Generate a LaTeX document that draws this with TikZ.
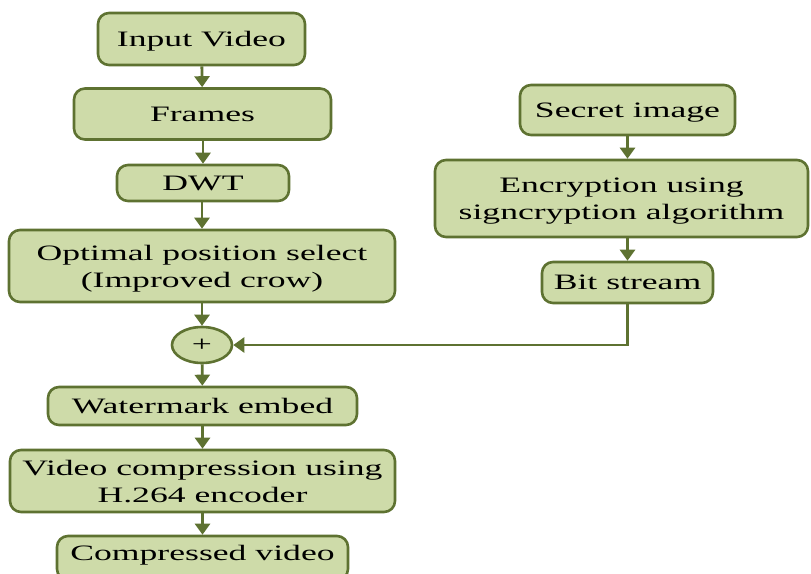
\documentclass[tikz,border=0pt]{standalone}
\usepackage{fontspec}
\setmainfont{Liberation Serif}[FakeStretch=1.62]
\usetikzlibrary{arrows.meta,shapes.geometric}
\definecolor{boxfill}{HTML}{CEDBA9}
\definecolor{boxline}{HTML}{5E7231}
\tikzset{
  x=1pt, y=1pt,
  stage/.style={draw=boxline, fill=boxfill, line width=2.6pt, rounded corners=11pt,
    inner sep=0pt, align=center, text depth=0pt, font=\fontsize{22}{27}\selectfont},
  joiner/.style={draw=boxline, fill=boxfill, line width=2.6pt, ellipse, inner sep=0pt,
    minimum width=60pt, minimum height=36pt, font=\fontsize{22}{24}\selectfont},
  flow/.style={draw=boxline, line width=2.8pt, -{Triangle[width=15pt,length=11pt]}}
}
\begin{document}
\begin{tikzpicture}
\useasboundingbox (0,0) rectangle (811,-573);
\begin{scope}
\clip (0,0) rectangle (811,-573);
% left column: video path
\node[stage, minimum width=207pt, minimum height=52pt] (inp) at (201.5,-39) {Input Video};
\node[stage, minimum width=257pt, minimum height=51pt] (frm) at (202.5,-114) {Frames};
\node[stage, minimum width=172pt, minimum height=36pt] (dwt) at (203,-183) {DWT};
\node[stage, minimum width=386pt, minimum height=72pt] (opt) at (202,-266) {Optimal position select\\(Improved crow)};
\node[joiner] (plus) at (202,-345) {+};
\node[stage, minimum width=309pt, minimum height=38pt] (wm) at (202.5,-406) {Watermark embed};
\node[stage, minimum width=385pt, minimum height=62pt] (vc) at (202.5,-481) {Video compression using\\H.264 encoder};
\node[stage, minimum width=291pt, minimum height=44pt] (cv) at (202.5,-558) {};
\node[font=\fontsize{22}{24}\selectfont] (cvt) at (202.5,-555) {Compressed video};
% right column: secret image path
\node[stage, minimum width=215pt, minimum height=50pt] (sec) at (627.5,-110) {Secret image};
\node[stage, minimum width=373pt, minimum height=77pt] (enc) at (621.5,-198.5) {Encryption using\\signcryption algorithm};
\node[stage, minimum width=171pt, minimum height=41pt] (bit) at (627.5,-282.5) {Bit stream};
% connectors
\draw[flow] (inp) -- (frm);
\draw[flow] (frm.south -| dwt) -- (dwt);
\draw[flow] (dwt.south -| opt) -- (opt);
\draw[flow] (opt) -- (plus);
\draw[flow] (plus) -- (wm);
\draw[flow] (wm) -- (vc);
\draw[flow] (vc) -- (cv);
\draw[flow] (sec) -- (sec.south |- enc.north);
\draw[flow] (sec.south |- enc.south) -- (bit);
\draw[flow] (bit.south) -- (bit.south |- plus.east) -- (plus.east);
\end{scope}
\end{tikzpicture}
\end{document}
